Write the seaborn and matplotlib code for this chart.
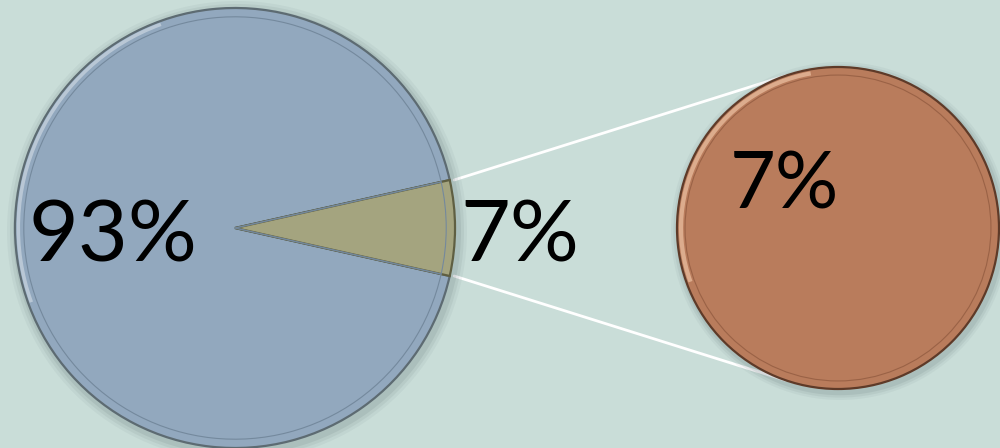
import numpy as np
import matplotlib.pyplot as plt
from matplotlib.patches import Arc
import seaborn as sns

# Daten
main_labels = ["Rest", "Anteil"]
main_values = [93, 7]
sub_labels = ["Anteil"]
sub_values = [7]

bg = "#c9ddd8"
main_colors = ["#92a8be", "#a4a47f"]
sub_colors = ["#b97c5c"]

sns.set_theme(style="white", rc={"axes.facecolor": bg, "figure.facecolor": bg})
plt.rcParams["font.family"] = ["Lato", "DejaVu Sans"]

fig = plt.figure(figsize=(10, 4.48), dpi=100)
ax = fig.add_axes([0, 0, 1, 1])

# Geometrie in Pixeln
c1, r1 = (235, 220), 220
c2, r2 = (838, 220), 161
half = 360 * main_values[1] / sum(main_values) / 2
expl = 0.02

# Schatten
for k, a in zip([10, 7, 4], [0.05, 0.07, 0.09]):
    ax.add_patch(plt.Circle((c1[0] + 2, c1[1] - 3), r1 + k, color="#3a4a50", alpha=a, lw=0))
    ax.add_patch(plt.Circle((c2[0] + 2, c2[1] - 3), r2 + k * 0.8, color="#3a4a50", alpha=a, lw=0))

wp = dict(linewidth=1.6, edgecolor="#5d6b72")
w1, _ = ax.pie(main_values, colors=main_colors, startangle=half, counterclock=True,
               explode=[0, expl], center=c1, radius=r1, wedgeprops=wp)
w1[1].set_edgecolor("#5f5f42")
w2, _ = ax.pie(sub_values, colors=sub_colors, center=c2, radius=r2,
               wedgeprops=dict(linewidth=1.6, edgecolor="#5e3a28"))

# Innenkante (Fase)
ax.pie(main_values, colors=["none", "none"], startangle=half, explode=[0, expl],
       center=c1, radius=r1 * 0.96,
       wedgeprops=dict(linewidth=0.8, edgecolor="#74899d", fill=False))
ax.add_patch(plt.Circle(c2, r2 * 0.95, fill=False, lw=0.8, ec="#9a6246"))

# Glanzlicht oben links
ax.add_patch(Arc(c1, 2 * r1 * 0.985, 2 * r1 * 0.985, theta1=110, theta2=200,
                 color="#c3d0dc", lw=2.5, alpha=0.8))
ax.add_patch(Arc(c2, 2 * r2 * 0.975, 2 * r2 * 0.975, theta1=100, theta2=200,
                 color="#e3b596", lw=3, alpha=0.85))

# Verbindungslinien
ox = c1[0] + expl * r1
t = np.deg2rad(half)
p_top = (ox + r1 * np.cos(t), c1[1] + r1 * np.sin(t))
p_bot = (ox + r1 * np.cos(t), c1[1] - r1 * np.sin(t))
q = np.deg2rad(109)
q_top = (c2[0] + r2 * np.cos(q), c2[1] + r2 * np.sin(q))
q_bot = (c2[0] + r2 * np.cos(q), c2[1] - r2 * np.sin(q))
ax.plot([p_top[0], q_top[0]], [p_top[1], q_top[1]], color="white", lw=2, zorder=0.5)
ax.plot([p_bot[0], q_bot[0]], [p_bot[1], q_bot[1]], color="white", lw=2, zorder=0.5)

# Beschriftungen
fs = 62
ax.text(113, 210, f"{main_values[0]}%", fontsize=fs, ha="center", va="center", color="black")
ax.text(520, 210, f"{main_values[1]}%", fontsize=fs, ha="center", va="center", color="black")
ax.text(784, 262, f"{sub_values[0]}%", fontsize=57, ha="center", va="center", color="black")

ax.set_xlim(0, 1000)
ax.set_ylim(0, 448)
ax.set_aspect("equal")
ax.axis("off")

fig.savefig("out.png", dpi=100, facecolor=bg)
